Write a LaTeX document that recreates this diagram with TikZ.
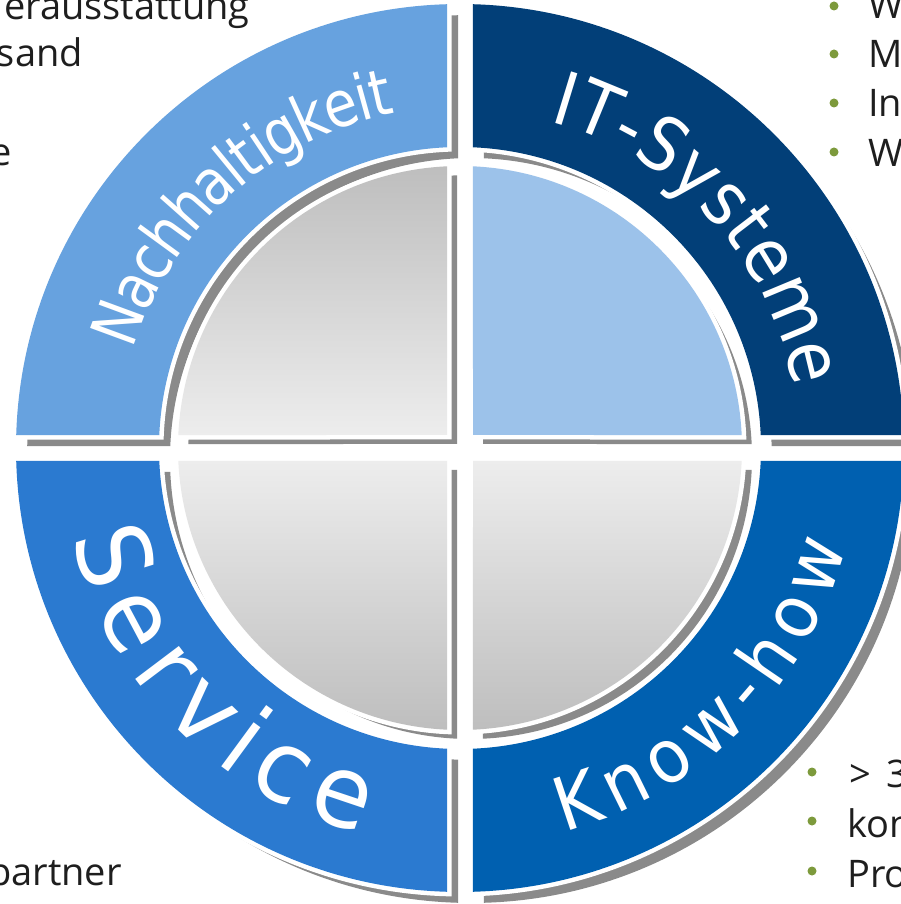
\documentclass[tikz,border=0pt]{standalone}
\usepackage{fontspec}
\usetikzlibrary{decorations.text}
\newfontfamily\ringfontN{DejaVu Sans}[FakeStretch=0.85]
\newfontfamily\ringfontI{DejaVu Sans}[FakeStretch=0.9]
\newfontfamily\ringfontS{DejaVu Sans}[FakeStretch=0.95]
\newfontfamily\ringfontK{DejaVu Sans}[FakeStretch=0.92]
\newfontfamily\sidefont{Open Sans}
\definecolor{nhblue}{HTML}{67A2DF}
\definecolor{itblue}{HTML}{023F78}
\definecolor{svblue}{HTML}{2B7AD0}
\definecolor{khblue}{HTML}{0060B0}
\definecolor{lightq}{HTML}{9CC2EA}
\definecolor{shadowgray}{HTML}{8A8A8A}
\definecolor{bulletgreen}{HTML}{7D9A3C}
\definecolor{txt}{HTML}{1E1E1E}
\definecolor{gdark}{HTML}{BEBEBE}
\definecolor{glight}{HTML}{EDEDED}
\def\ringsector#1{({#1+asin(13/444)}:444pt) arc[start angle={#1+asin(13/444)}, end angle={#1+90-asin(13/444)}, radius=444pt] -- ({#1+90-asin(13/301)}:301pt) arc[start angle={#1+90-asin(13/301)}, end angle={#1+asin(13/301)}, radius=301pt] -- cycle}
\def\innersector#1{({#1+45}:18.385pt) -- ({#1+asin(13/282)}:282pt) arc[start angle={#1+asin(13/282)}, end angle={#1+90-asin(13/282)}, radius=282pt] -- cycle}
\begin{document}
\begin{tikzpicture}[x=1pt,y=1pt,
  halo/.style={draw=white,line width=9pt},
  ringshadow/.style={fill=shadowgray, shift={(11,-11)}},
  innershadow/.style={fill=shadowgray, shift={(10,-9)}},
  sidetext/.style={font=\sidefont\fontsize{38}{44}\selectfont, text=txt, inner sep=0pt},
  bullet/.style={circle, fill=bulletgreen, minimum size=9pt, inner sep=0pt}
]
\useasboundingbox (-460,-456) rectangle (440,448);

% shadows
\path[ringshadow] \ringsector{0};
\path[ringshadow] \ringsector{90};
\path[ringshadow] \ringsector{180};
\path[ringshadow] \ringsector{270};
\path[innershadow] \innersector{0};
\path[innershadow] \innersector{90};
\path[innershadow] \innersector{180};
\path[innershadow] \innersector{270};

% rings
\path[halo] \ringsector{90};  \fill[nhblue] \ringsector{90};
\path[halo] \ringsector{0};   \fill[itblue] \ringsector{0};
\path[halo] \ringsector{180}; \fill[svblue] \ringsector{180};
\path[halo] \ringsector{270}; \fill[khblue] \ringsector{270};

% inner quadrants
\path[halo] \innersector{90};  \shade[top color=gdark, bottom color=glight] \innersector{90};
\path[halo] \innersector{0};   \fill[lightq] \innersector{0};
\path[halo] \innersector{180}; \shade[top color=glight, bottom color=gdark] \innersector{180};
\path[halo] \innersector{270}; \shade[top color=glight, bottom color=gdark] \innersector{270};

% ring labels
\path[decorate, decoration={text along path, text align=fit to path, raise=-23pt,
  text={|\ringfontN\fontsize{64}{72}\selectfont\color{white}|Nachhaltigkeit}}]
  (163:364pt) arc[start angle=163, end angle=101, radius=364pt];
\path[decorate, decoration={text along path, text align=fit to path, raise=-27pt,
  text={|\ringfontI\fontsize{74}{82}\selectfont\color{white}|IT-Systeme}}]
  (74.5:366pt) arc[start angle=74.5, end angle=10.5, radius=366pt];
\path[decorate, decoration={text along path, text align=fit to path, raise=-36pt,
  text={|\ringfontS\fontsize{100}{110}\selectfont\color{white}|Service}}]
  (192.5:362pt) arc[start angle=192.5, end angle=256, radius=362pt];
\path[decorate, decoration={text along path, text align=fit to path, raise=-27pt,
  text={|\ringfontK\fontsize{74}{82}\selectfont\color{white}|Know-how}}]
  (285:371pt) arc[start angle=285, end angle=346, radius=371pt];

% side texts (cropped)
\node[sidetext, anchor=base east] (tl1) at (-210,428) {erausstattung};
\node[sidetext, anchor=base east] (tl2) at (-377,381) {sand};
\node[sidetext, anchor=base east] (tl3) at (-448,282) {e};
\node[sidetext, anchor=base east] (bl1) at (-338,-437) {partner};

\node[bullet] (r1) at (374,442) {};
\node[bullet] (r2) at (374,394) {};
\node[bullet] (r3) at (374,345) {};
\node[bullet] (r4) at (374,296) {};
\node[sidetext, anchor=base west] (rt1) at (408,429.5) {W};
\node[sidetext, anchor=base west] (rt2) at (408,380) {M};
\node[sidetext, anchor=base west] (rt3) at (408,331) {In};
\node[sidetext, anchor=base west] (rt4) at (408,281.5) {W};

\node[bullet] (s1) at (352,-324) {};
\node[bullet] (s2) at (352,-373) {};
\node[bullet] (s3) at (352,-423) {};
\node[sidetext, anchor=base west] (sb1) at (389,-339) {>\hspace{16pt}3};
\node[sidetext, anchor=base west] (sb2) at (387,-389) {kon};
\node[sidetext, anchor=base west] (sb3) at (387,-439) {Pro};
\end{tikzpicture}
\end{document}
